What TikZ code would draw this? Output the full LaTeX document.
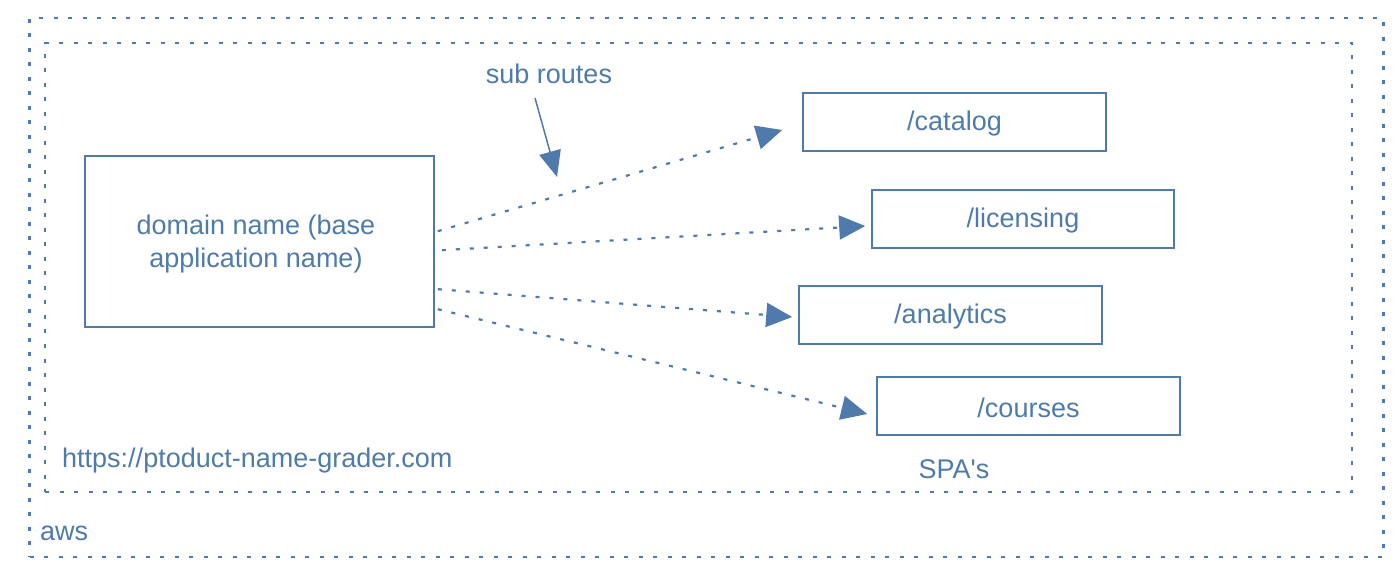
\documentclass[tikz,border=0pt]{standalone}
\usepackage{fontspec}
\setmainfont{Liberation Sans}
\newfontfamily\rawfont{Liberation Sans}
\usetikzlibrary{arrows.meta,calc}
\definecolor{ink}{HTML}{4E7BAB}
\begin{document}
\begin{tikzpicture}[x=1pt,y=-1pt,
  every node/.style={text=ink,font=\fontsize{27}{33}\selectfont},
  box/.style={draw=ink,line width=1.6pt,rectangle,inner sep=0pt,align=center,text depth=0pt},
  frame/.style={draw=ink,line width=2.4pt,dash pattern=on 4pt off 10.5pt,rectangle,inner sep=0pt},
  route/.style={draw=ink,line width=2.2pt,dash pattern=on 4pt off 10pt,-{Triangle[length=26pt,width=24pt]}},
  pointer/.style={draw=ink,line width=1.5pt,-{Triangle[length=26pt,width=22pt]}},
  lbl/.style={inner sep=0pt}]
\useasboundingbox (0,0) rectangle (1400,578);
\node[frame,minimum width=1354pt,minimum height=539pt] (aws) at (706.5,287.5) {};
\node[frame,minimum width=1307pt,minimum height=449pt] (spa) at (698.5,267.5) {};
\node[box,minimum width=349pt,minimum height=171pt] (main) at (259.5,241.5) {};
\node[lbl,align=center] (maintext) at (256,244) {domain name (base\\application name)};
\node[box,minimum width=303pt,minimum height=58pt] (catalog) at (954.5,122) {};
\node[lbl] at (954.5,124) {/catalog};
\node[box,minimum width=302pt,minimum height=58pt] (licensing) at (1023,219) {};
\node[lbl] at (1023,221) {/licensing};
\node[box,minimum width=303pt,minimum height=58pt] (analytics) at (950.5,315) {};
\node[lbl] at (950.5,317) {/analytics};
\node[box,minimum width=303pt,minimum height=58pt] (courses) at (1028.5,406) {};
\node[lbl] at (1028.5,408) {/courses};
\node[lbl] (sub) at (549,74) {sub routes};
\node[lbl,anchor=west] (url) at (62,461) {https://ptoduct-name-grader.com};
\node[lbl] (spas) at (954,469) {\rawfont SPA's};
\node[lbl,anchor=west] (awsl) at (40,533) {aws};
\draw[route] ($(main.north east)+(3,76)$) -- ($(catalog.west)+(-20,8)$);
\draw[route] ($(main.north east)+(7,95)$) -- ($(licensing.west)+(-6,7)$);
\draw[route] ($(main.north east)+(3,134)$) -- ($(analytics.west)+(-6,2)$);
\draw[route] ($(main.north east)+(3,154)$) -- ($(courses.west)+(-9,8)$);
\draw[pointer] (535,98) -- (557,177);
\end{tikzpicture}
\end{document}
